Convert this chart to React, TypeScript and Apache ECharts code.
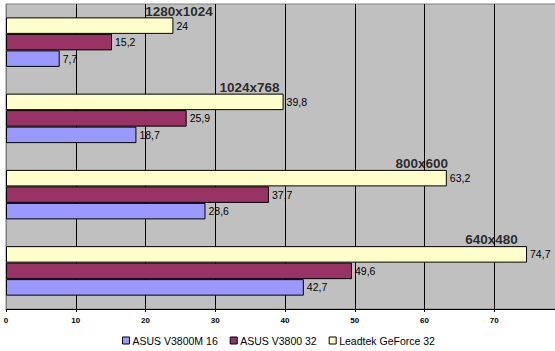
import React, { useEffect, useRef } from "react";
import * as echarts from "echarts";

const categories = ["640x480", "800x600", "1024x768", "1280x1024"];
const asusM16 = [42.7, 28.6, 18.7, 7.7];
const asus32 = [49.6, 37.7, 25.9, 15.2];
const leadtek32 = [74.7, 63.2, 39.8, 24];
const titlePos = [69.6, 59.6, 34.9, 24.8];
const seriesNames = ["ASUS V3800M 16", "ASUS V3800 32", "Leadtek GeForce 32"];
const colors = ["#9999ff", "#993366", "#ffffcc"];
const tickLabels = ["0", "10", "20", "30", "40", "50", "60", "70"];

const FONT = "'Liberation Sans', Arial, sans-serif";

export default function App() {
  const ref = useRef<HTMLDivElement>(null);
  useEffect(() => {
    if (!ref.current) return;
    const chart = echarts.init(ref.current, null, { renderer: "svg" });
    const valueLabel = {
      show: true,
      position: "right",
      distance: 3,
      fontSize: 10.5,
      fontFamily: FONT,
      color: "#000",
      formatter: (p: any) => String(p.value).replace(".", ","),
    };
    const dataSets = [asusM16, asus32, leadtek32];
    // series drawn top-to-bottom within a group: yellow, maroon, blue
    const barSeries = [2, 1, 0].map((i) => ({
      type: "bar",
      name: seriesNames[i],
      data: dataSets[i],
      barWidth: 16.5,
      barGap: "0%",
      itemStyle: { color: colors[i], borderColor: "#000", borderWidth: 1 },
      label: valueLabel,
    }));
    chart.setOption({
      animation: false,
      grid: {
        left: 6,
        top: 4,
        width: 558,
        height: 305,
        show: true,
        outerBoundsMode: "none",
        containLabel: false,
        backgroundColor: "#c0c0c0",
        borderColor: "#808080",
        borderWidth: 1,
      },
      legend: {
        left: 122,
        top: 335,
        padding: 0,
        itemWidth: 7,
        itemHeight: 7,
        itemGap: 12,
        icon: "rect",
        data: seriesNames,
        itemStyle: { borderColor: "#000", borderWidth: 1 },
        textStyle: { fontSize: 10.5, fontFamily: FONT, color: "#000", padding: [0, 0, 0, -2] },
      },
      xAxis: {
        type: "value",
        min: 0,
        max: 80,
        interval: 10,
        axisLine: { show: true, lineStyle: { color: "#000", width: 1 } },
        axisTick: { show: true, length: 3, lineStyle: { color: "#000" } },
        axisLabel: {
          fontSize: 8,
          fontWeight: "bold",
          fontFamily: FONT,
          color: "#000",
          margin: 7,
          formatter: (v: number) => {
            const s = String(v);
            return tickLabels.indexOf(s) >= 0 ? s : "";
          },
        },
        splitLine: { show: true, showMinLine: false, lineStyle: { color: "#000", width: 1 } },
      },
      yAxis: {
        type: "category",
        data: categories,
        axisLine: { show: true, lineStyle: { color: "#808080" } },
        axisTick: { show: false },
        axisLabel: { show: false },
        splitLine: { show: false },
      },
      series: [
        ...barSeries,
        {
          type: "scatter",
          data: titlePos,
          symbolSize: 0,
          silent: true,
          z: 5,
          label: {
            show: true,
            position: "inside",
            offset: [0, -31],
            fontSize: 13.5,
            fontWeight: "bold",
            fontFamily: FONT,
            color: "#000",
            formatter: (p: any) => categories[p.dataIndex],
          },
        },
      ],
    });
    return () => chart.dispose();
  }, []);
  return (
    <div
      ref={ref}
      style={{ position: "fixed", left: 0, top: 0, width: 555, height: 351, background: "#fff" }}
    />
  );
}
